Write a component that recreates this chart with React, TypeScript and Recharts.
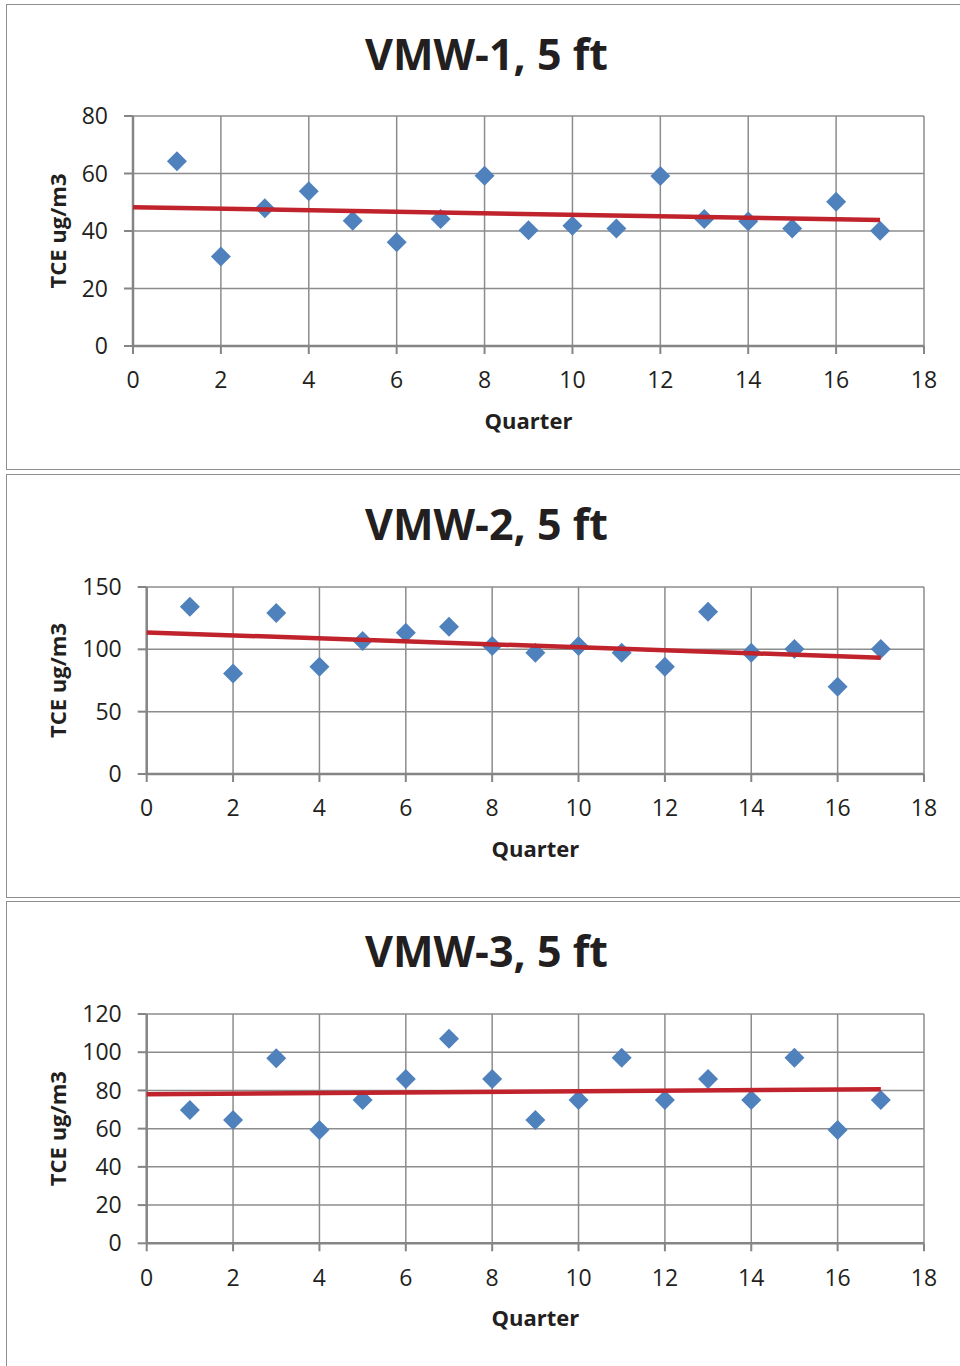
import { ScatterChart, Scatter, XAxis, YAxis, CartesianGrid } from "recharts";

// quarters sampled at each well
const quarters = [1, 2, 3, 4, 5, 6, 7, 8, 9, 10, 11, 12, 13, 14, 15, 16, 17];

// TCE ug/m3
const vmw1Tce = [64.3, 31.1, 47.9, 53.8, 43.6, 36.1, 44.2, 59.2, 40.3, 41.8, 40.9, 59.1, 44.2, 43.4, 40.9, 50.2, 40.1];
const vmw2Tce = [134.2, 80.7, 129.1, 86.1, 106.7, 113.3, 118.1, 102.6, 97.3, 102.6, 97.3, 86.1, 130.2, 97.3, 100.2, 70.0, 100.2];
const vmw3Tce = [69.8, 64.5, 96.8, 59.3, 75.0, 86.0, 107.1, 86.0, 64.5, 75.0, 97.1, 75.0, 86.0, 75.0, 97.1, 59.3, 75.0];

// linear trend lines (end points as drawn)
const trendQuarters = [0, 17];
const vmw1Trend = [48.3, 43.8];
const vmw2Trend = [113.6, 93.3];
const vmw3Trend = [78.0, 80.6];

// axis ticks
const quarterTicks = [0, 2, 4, 6, 8, 10, 12, 14, 16, 18];
const vmw1Ticks = [0, 20, 40, 60, 80];
const vmw2Ticks = [0, 50, 100, 150];
const vmw3Ticks = [0, 20, 40, 60, 80, 100, 120];

const titles = ["VMW-1, 5 ft", "VMW-2, 5 ft", "VMW-3, 5 ft"];

const toPoints = (xs: number[], ys: number[]) => xs.map((x, i) => ({ x, y: ys[i] }));

const FONT = "'Open Sans', 'Noto Sans', sans-serif";
const TEXT = "#231f20";
const GRID = "#8c8c8c";
const AXIS = "#858585";
const BLUE = "#4f81bd";
const RED = "#c0232c";
const W = 960;
const PLOT_RIGHT = 924;

const Diamond = (props: any) => {
  const { cx, cy } = props;
  if (cx == null || cy == null) return <g />;
  const r = 10;
  return (
    <polygon
      points={`${cx},${cy - r} ${cx + r},${cy} ${cx},${cy + r} ${cx - r},${cy}`}
      fill={BLUE}
    />
  );
};

type PanelProps = {
  title: string;
  top: number;
  height: number;
  plotLeft: number;
  plotTop: number;
  plotBottom: number;
  values: number[];
  trend: number[];
  yTicks: number[];
};

const Panel = ({ title, top, height, plotLeft, plotTop, plotBottom, values, trend, yTicks }: PanelProps) => {
  const margin = {
    top: plotTop,
    right: W - PLOT_RIGHT,
    bottom: height - plotBottom - 60,
    left: plotLeft - 60,
  };
  const midX = (plotLeft + PLOT_RIGHT) / 2;
  const midY = (plotTop + plotBottom) / 2;

  return (
    <div style={{ position: "absolute", left: 0, top, width: W, height }}>
      <div
        style={{
          position: "absolute",
          left: 6,
          top: 0,
          width: 960,
          height,
          border: "1.5px solid #8e8e8e",
          boxSizing: "border-box",
        }}
      />
      <ScatterChart width={W} height={height} margin={margin}>
        <CartesianGrid stroke={GRID} strokeWidth={1.5} />
        <XAxis
          type="number"
          dataKey="x"
          domain={[0, 18]}
          ticks={quarterTicks}
          interval={0}
          height={60}
          tickSize={8}
          tickMargin={18}
          tick={{ fill: TEXT, fontSize: 23 }}
          axisLine={{ stroke: AXIS, strokeWidth: 2.5 }}
          tickLine={{ stroke: AXIS, strokeWidth: 2 }}
        />
        <YAxis
          type="number"
          dataKey="y"
          domain={[0, yTicks[yTicks.length - 1]]}
          ticks={yTicks}
          interval={0}
          width={60}
          tickSize={9}
          tickMargin={16}
          tick={{ fill: TEXT, fontSize: 23 }}
          axisLine={{ stroke: AXIS, strokeWidth: 2.5 }}
          tickLine={{ stroke: AXIS, strokeWidth: 2 }}
        />
        <Scatter data={toPoints(quarters, values)} shape={Diamond} fill={BLUE} isAnimationActive={false} />
        <Scatter
          data={toPoints(trendQuarters, trend)}
          line={{ stroke: RED, strokeWidth: 4.5 }}
          shape={() => <g />}
          isAnimationActive={false}
        />
      </ScatterChart>
      <svg
        width={W}
        height={height}
        style={{ position: "absolute", left: 0, top: 0, pointerEvents: "none" }}
      >
        <text x={486.5} y={66} textAnchor="middle" fontSize={43} fontWeight={700} fill={TEXT}>
          {title}
        </text>
        <text x={midX} y={plotBottom + 82.5} textAnchor="middle" fontSize={22} fontWeight={700} fill={TEXT}>
          Quarter
        </text>
        <text
          x={66}
          y={midY}
          textAnchor="middle"
          fontSize={22}
          fontWeight={700}
          fill={TEXT}
          transform={`rotate(-90, 66, ${midY})`}
        >
          TCE ug/m3
        </text>
      </svg>
    </div>
  );
};

export default function App() {
  return (
    <div
      style={{
        position: "absolute",
        left: 0,
        top: 0,
        width: W,
        height: 1366,
        overflow: "hidden",
        background: "#fff",
        fontFamily: FONT,
      }}
    >
      <Panel title={titles[0]} top={4} height={466} plotLeft={133} plotTop={112} plotBottom={342}
        values={vmw1Tce} trend={vmw1Trend} yTicks={vmw1Ticks} />
      <Panel title={titles[1]} top={474} height={424} plotLeft={146.7} plotTop={113} plotBottom={300}
        values={vmw2Tce} trend={vmw2Trend} yTicks={vmw2Ticks} />
      <Panel title={titles[2]} top={901} height={470} plotLeft={146.7} plotTop={113} plotBottom={342.3}
        values={vmw3Tce} trend={vmw3Trend} yTicks={vmw3Ticks} />
    </div>
  );
}
